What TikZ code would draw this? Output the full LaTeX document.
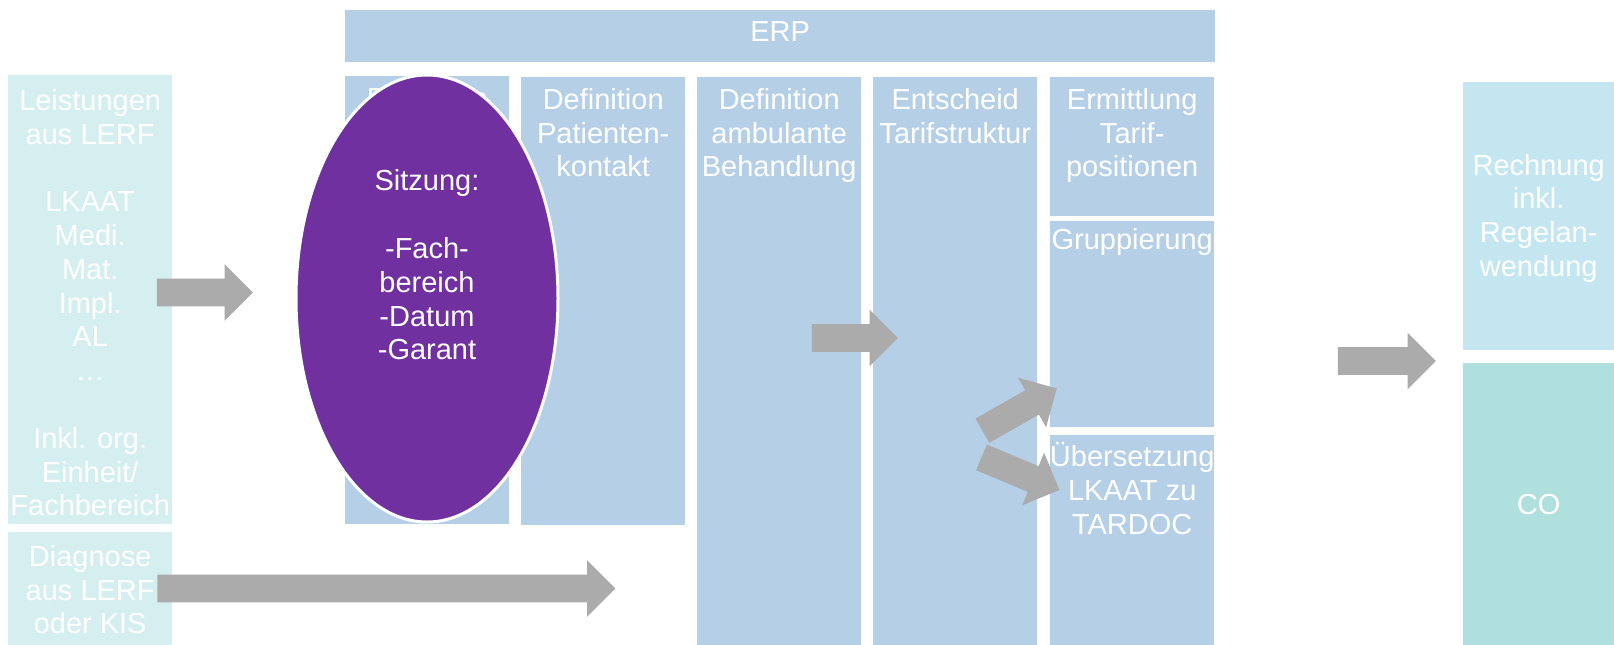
\documentclass[tikz,border=0pt]{standalone}
\usepackage{fontspec}
\setmainfont{Liberation Sans}
\usetikzlibrary{positioning,shapes.geometric,shapes.arrows}
\definecolor{lerfcyan}{HTML}{D5EEF0}
\definecolor{erpblue}{HTML}{B5CFE7}
\definecolor{sitzpurple}{HTML}{7030A0}
\definecolor{rechblue}{HTML}{C3E6F0}
\definecolor{cogreen}{HTML}{B0E0DE}
\definecolor{pfeilgray}{HTML}{ABABAB}
\tikzset{
  box/.style={rectangle, inner sep=0, anchor=north west},
  txt/.style={text=white, font=\fontsize{29}{33.8}\selectfont, align=center, inner sep=0},
  pfeil/.style={single arrow, fill=pfeilgray, inner xsep=0, inner ysep=13.75pt,
    single arrow head extend=14.5pt, minimum height=#1},
}
\begin{document}
\begin{tikzpicture}[x=1pt,y=-1pt]
\useasboundingbox[fill=white] (0,0) rectangle (1614,645);
% Eingaben links
\node[box, fill=lerfcyan, minimum width=164, minimum height=449] (lerf) at (8,75){};
\node[txt, below=14pt of lerf.north] (lerftxt) {Leistungen\\aus LERF\\ \\LKAAT\\Medi.\\Mat.\\Impl.\\AL\\…\\ \\Inkl. org.\\Einheit/\\Fachbereich};
\node[box, fill=lerfcyan, minimum width=164, minimum height=113] (diag) at (8,532){};
\node[txt, below=13pt of diag.north] (diagtxt) {Diagnose\\aus LERF\\oder KIS};
% ERP
\node[box, fill=erpblue, minimum width=870, minimum height=52] (erp) at (345,10){};
\node[txt, below=11pt of erp.north] (erptxt) {ERP};
\node[box, fill=erpblue, minimum width=164, minimum height=448] (col1) at (345,76){};
\node[txt, below=11pt of col1.north] (col1txt) {Definition};
\node[box, fill=erpblue, minimum width=164, minimum height=448] (col2) at (521,77){};
\node[txt, below=11pt of col2.north] (col2txt) {Definition\\Patienten-\\kontakt};
\node[box, fill=erpblue, minimum width=164, minimum height=568] (col3) at (697,77){};
\node[txt, below=11pt of col3.north] (col3txt) {Definition\\ambulante\\Behandlung};
\node[box, fill=erpblue, minimum width=164, minimum height=568] (col4) at (873,77){};
\node[txt, below=11pt of col4.north] (col4txt) {Entscheid\\Tarifstruktur};
\node[box, fill=erpblue, minimum width=164, minimum height=139] (col5a) at (1050,77){};
\node[txt, below=11pt of col5a.north] (col5atxt) {Ermittlung\\Tarif-\\positionen};
\node[box, fill=erpblue, minimum width=164, minimum height=206] (col5b) at (1050,221){};
\node[txt, below=7pt of col5b.north] (col5btxt) {Gruppierung};
\node[box, fill=erpblue, minimum width=164, minimum height=210] (col5c) at (1050,435){};
\node[txt, below=7pt of col5c.north] (col5ctxt) {Übersetzung\\LKAAT zu\\TARDOC};
% Sitzung
\node[ellipse, fill=sitzpurple, draw=white, line width=3pt, minimum width=262, minimum height=447, inner sep=0] (sitz) at (427,298.5){};
\node[txt] (sitztxt) at (427,265) {Sitzung:\\ \\-Fach-\\bereich\\-Datum\\-Garant};
% Ausgaben rechts
\node[box, fill=rechblue, minimum width=151, minimum height=268] (rech) at (1463,82){};
\node[txt] (rechtxt) at ([yshift=-2pt]rech.center) {Rechnung\\inkl.\\Regelan-\\wendung};
\node[box, fill=cogreen, minimum width=151, minimum height=282] (co) at (1463,363){};
\node[txt] (cotxt) at (co.center) {CO};
% Pfeile
\node[pfeil=96] (p1) at (198,292.5){};
\node[pfeil=458] (p2) at (379.5,588.5){};
\node[pfeil=86] (p3) at (848,338){};
\node[pfeil=98] (p4) at (1380,361){};
\node[pfeil=85.6, rotate=29.6] (p5) at (1013.5,413){};
\node[pfeil=84.5, rotate=-22.7] (p6) at (1014,471){};
\end{tikzpicture}
\end{document}
